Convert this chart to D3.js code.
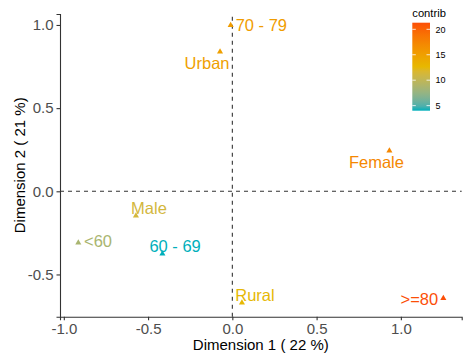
<!DOCTYPE html>
<html><head><meta charset="utf-8">
<script src="https://cdn.jsdelivr.net/npm/d3@7"></script>
<style>body{margin:0;background:#fff}svg{display:block;font-family:"Liberation Sans",Arial,sans-serif}</style>
</head><body>
<svg id="c" width="469" height="355"></svg>
<script>
const categories = ["70 - 79","Urban","Female","Male","<60","60 - 69","Rural",">=80"];
const dim1 = [-0.010,-0.073,0.932,-0.572,-0.914,-0.415,0.057,1.252];
const dim2 = [0.998,0.839,0.244,-0.147,-0.309,-0.375,-0.670,-0.643];
const contrib = [15.3,15.0,17.2,11.2,8.6,4.0,12.6,21.3];
const xTicks = [-1.0,-0.5,0.0,0.5,1.0];
const yTicks = [-0.5,0.0,0.5,1.0];
const legendTicks = [5,10,15,20];
const gradientCols = ["#00AFBB","#E7B800","#FC4E07"];

// label layout (repel-like placements, pixels relative to point)
const labelLayout = {
  "70 - 79": {dx:5, dy:5.5, anchor:"start"},
  "Urban": {dx:-13, dy:17.5, anchor:"middle"},
  "Female": {dx:-13, dy:17.6, anchor:"middle"},
  "Male": {dx:13, dy:-1.7, anchor:"middle"},
  "<60": {dx:5.7, dy:4, anchor:"start"},
  "60 - 69": {dx:12.7, dy:-2, anchor:"middle"},
  "Rural": {dx:13, dy:-2, anchor:"middle"},
  ">=80": {dx:-24, dy:6.7, anchor:"middle"}
};

const svg = d3.select("#c");
const x = d3.scaleLinear().domain([-1.0226,1.361]).range([60,461.7]);
const y = d3.scaleLinear().domain([-0.754,1.066]).range([316.7,14]);
const cmin = d3.min(contrib), cmax = d3.max(contrib);
const color = d3.scaleLinear().domain([cmin,(cmin+cmax)/2,cmax]).range(gradientCols).interpolate(d3.interpolateLab);

// axes
const xAxis = svg.append("g").attr("transform","translate(0,316.7)")
  .call(d3.axisBottom(x).tickValues(xTicks).tickFormat(d3.format(".1f")).tickSizeOuter(0).tickSize(3.5).tickPadding(3));
const yAxis = svg.append("g").attr("transform","translate(60,0)")
  .call(d3.axisLeft(y).tickValues(yTicks).tickFormat(d3.format(".1f")).tickSizeOuter(0).tickSize(3.5).tickPadding(3));
[xAxis,yAxis].forEach(a=>{
  a.select(".domain").attr("stroke","#333").attr("stroke-width",1.1);
  a.selectAll(".tick line").attr("stroke","#333").attr("stroke-width",1.1);
  a.selectAll(".tick text").attr("fill","#4D4D4D").style("font-size","15px").attr("font-family","Liberation Sans, Arial, sans-serif");
});
xAxis.selectAll(".tick text").text(d=>d3.format(".1f")(d).replace("−","-"));
yAxis.selectAll(".tick text").text(d=>d3.format(".1f")(d).replace("−","-"));

// reference dashed lines
svg.append("line").attr("x1",x.range()[0]).attr("x2",x.range()[1]).attr("y1",y(0)).attr("y2",y(0))
  .attr("stroke","#333").attr("stroke-width",1.1).attr("stroke-dasharray","4,4");
svg.append("line").attr("x1",x(0)).attr("x2",x(0)).attr("y1",y.range()[0]).attr("y2",y.range()[1])
  .attr("stroke","#333").attr("stroke-width",1.1).attr("stroke-dasharray","4,4");

// axis titles
svg.append("text").attr("x",260.8).attr("y",350).attr("text-anchor","middle")
  .style("font-size","15px").attr("fill","#000").text("Dimension 1 ( 22 %)");
svg.append("text").attr("transform","translate(24.5,165.3) rotate(-90)").attr("text-anchor","middle")
  .style("font-size","15px").attr("fill","#000").text("Dimension 2 ( 21 %)");

// points
const data = categories.map((c,i)=>({name:c,x:dim1[i],y:dim2[i],contrib:contrib[i]}));
const tri = d3.symbol().type(d3.symbolTriangle).size(16);
svg.append("g").selectAll("path").data(data).join("path")
  .attr("d",tri).attr("transform",d=>`translate(${x(d.x)},${y(d.y)})`)
  .attr("fill",d=>color(d.contrib));
svg.append("g").selectAll("text").data(data).join("text")
  .attr("x",d=>x(d.x)+labelLayout[d.name].dx)
  .attr("y",d=>y(d.y)+labelLayout[d.name].dy)
  .attr("text-anchor",d=>labelLayout[d.name].anchor)
  .style("font-size","16.5px")
  .attr("fill",d=>color(d.contrib)).text(d=>d.name);

// legend
const defs = svg.append("defs");
const grad = defs.append("linearGradient").attr("id","g").attr("x1",0).attr("y1",1).attr("x2",0).attr("y2",0);
d3.range(0,1.0001,0.05).forEach(t=>{
  grad.append("stop").attr("offset",t).attr("stop-color",color(cmin+t*(cmax-cmin)));
});
const lg = d3.scaleLinear().domain([cmin,cmax]).range([110.7,22.7]);
svg.append("text").attr("x",412.3).attr("y",16.5).style("font-size","11.2px").attr("fill","#000").text("contrib");
svg.append("rect").attr("x",412.3).attr("y",22.7).attr("width",17.7).attr("height",88).attr("fill","url(#g)");
legendTicks.forEach(v=>{
  svg.append("line").attr("x1",412.3).attr("x2",415.8).attr("y1",lg(v)).attr("y2",lg(v)).attr("stroke","#fff").attr("stroke-width",0.8);
  svg.append("line").attr("x1",426.5).attr("x2",430).attr("y1",lg(v)).attr("y2",lg(v)).attr("stroke","#fff").attr("stroke-width",0.8);
  svg.append("text").attr("x",435.5).attr("y",lg(v)+3.3).style("font-size","9px").attr("fill","#000").text(v);
});
</script>
</body></html>
